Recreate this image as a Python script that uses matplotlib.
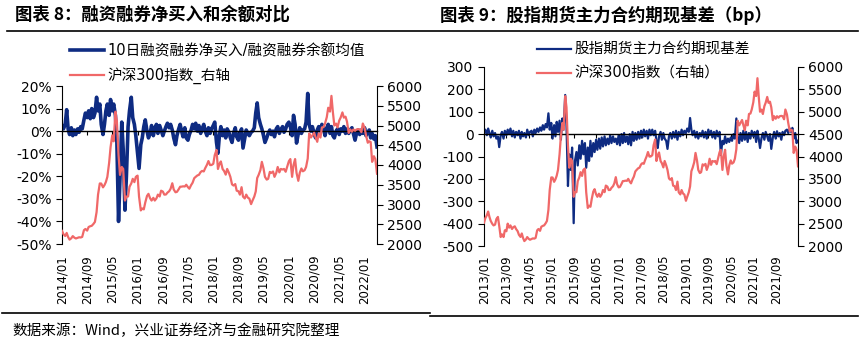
import matplotlib
matplotlib.use("Agg")
import matplotlib.pyplot as plt
import matplotlib.dates as mdates
from matplotlib.lines import Line2D
from matplotlib.ticker import FuncFormatter, MultipleLocator
import numpy as np
import pandas as pd

plt.rcParams['font.family'] = ['DejaVu Sans', 'Noto Sans CJK SC']
plt.rcParams['axes.unicode_minus'] = False

BLUE = '#0E2B82'
PINK = '#F06868'

# half-month grid (1st and 15th), 2013/01 - 2022/05
# CSI 300 close
hs300_2013 = [2520, 2620, 2690, 2770, 2650, 2560, 2495, 2460, 2478, 2600, 2650, 2450,
              2200, 2260, 2200, 2350, 2330, 2500, 2410, 2460, 2380, 2420, 2440, 2380]
hs300_2014 = [2331, 2250, 2203, 2280, 2178, 2110, 2146, 2200, 2160, 2140, 2157, 2170,
              2165, 2180, 2350, 2380, 2339, 2430, 2450, 2460, 2509, 2560, 2808, 3250]
hs300_2015 = [3533, 3530, 3434, 3490, 3572, 3700, 4051, 4450, 4749, 4600, 5350, 5100,
              4250, 3750, 3950, 3900, 3100, 3200, 3203, 3450, 3534, 3650, 3566, 3700]
hs300_2016 = [3731, 3200, 2850, 2900, 2877, 3050, 3218, 3270, 3156, 3100, 3169, 3100,
              3154, 3250, 3203, 3350, 3327, 3250, 3253, 3300, 3336, 3400, 3538, 3380]
hs300_2017 = [3310, 3320, 3387, 3450, 3452, 3460, 3456, 3500, 3439, 3400, 3492, 3550,
              3666, 3700, 3737, 3750, 3822, 3850, 3837, 3920, 4006, 4100, 3998, 4000]
hs300_2018 = [4030, 4250, 4380, 3900, 4023, 4090, 3898, 3850, 3756, 3900, 3802, 3700,
              3510, 3480, 3517, 3350, 3335, 3250, 3438, 3200, 3153, 3250, 3172, 3150]
hs300_2019 = [3010, 3100, 3201, 3330, 3670, 3750, 3872, 4080, 3913, 3700, 3630, 3650,
              3825, 3800, 3835, 3700, 3799, 3950, 3814, 3900, 3886, 3900, 3829, 3950]
hs300_2020 = [4097, 4150, 3700, 4000, 4150, 3800, 3600, 3800, 3912, 3840, 3868, 3950,
              4164, 4800, 4696, 4750, 4816, 4700, 4587, 4800, 4695, 4950, 4960, 5050]
hs300_2021 = [5211, 5450, 5352, 5750, 5336, 5000, 5048, 4950, 5124, 5200, 5331, 5200,
              5224, 5100, 4812, 4900, 4844, 4900, 4866, 4900, 4908, 4900, 4832, 5050]
hs300_2022 = [4940, 4750, 4564, 4600, 4581, 4080, 4222, 4150, 3780]

# IF main contract basis, bp
basis_2013 = [10, 20, -5, 25, 5, -15, 15, -10, 5, -20, -10, -58,
              -5, 10, -20, 15, -5, 20, 0, 25, -10, 15, -15, 10]
basis_2014 = [-5, 15, -20, 10, -10, 5, -15, 20, -5, 10, 15, -10,
              20, 5, 25, 10, 30, 15, 40, 20, 45, 30, 93, 20]
basis_2015 = [50, -20, 40, -10, 55, 10, 60, -25, 70, 20, 175, 40,
              -232, -90, -160, -60, -398, -120, -80, -140, -50, -110, -30, -90]
basis_2016 = [-40, -150, -60, -120, -30, -100, -40, -80, -25, -70, -20, -65,
              -15, -55, -10, -50, -20, -45, -5, -40, -10, -35, -20, -45]
basis_2017 = [-5, -50, 0, -40, 5, -35, -10, -45, 0, -50, 10, -30,
              5, -25, 10, -20, 15, -15, 20, -10, 15, -20, 20, -5]
basis_2018 = [20, -5, 15, -30, -62, -10, 10, -25, 5, -20, -30, -66,
              -10, 5, -20, 10, -15, 15, -25, 10, -10, 20, -5, 15]
basis_2019 = [5, 25, 10, 72, 20, -5, 15, -15, 10, -20, 5, -10,
              15, -15, 10, -20, 20, -5, 15, -15, 10, -20, 15, -10]
basis_2020 = [10, -93, -30, -45, -10, -40, -20, -35, -15, -30, 0, -20,
              70, -10, -40, 5, -30, 15, -25, 10, -35, 5, -20, 15]
basis_2021 = [-10, 10, -35, 15, -20, -62, -15, 5, -25, 10, -10, -30,
              0, -66, -15, 10, -20, 13, -10, 5, -25, 10, -5, 15]
basis_2022 = [20, 5, 25, 10, 28, -20, 5, -40, -30]

# 10-day margin net buy / margin balance, %, 2014/01 - 2022/05
margin_2014 = [2.5, 1.0, 3.0, 9.5, 1.0, -1.5, 1.5, -2.0, 0.5, -1.5, 1.0, -0.5,
               2.0, 1.0, 5.0, 8.0, 6.0, 9.0, 5.5, 10.0, 6.0, 8.0, 15.0, 9.0]
margin_2015 = [12.0, 3.0, -1.5, 3.0, 9.0, 12.0, 7.0, 14.0, 9.0, 12.0, 7.0, -5.0,
               -40.0, -21.0, 4.0, -8.0, -35.0, -20.0, 2.0, 9.0, 15.0, 6.0, 3.0, -2.0]
margin_2016 = [-10.0, -16.5, -6.0, -3.0, 2.0, 5.0, 0.0, -3.0, -1.0, 2.5, -2.0, 1.0,
               3.0, -1.0, 2.5, 0.5, -2.0, 0.0, 2.0, 3.5, 1.5, 3.0, 0.5, -3.0]
margin_2017 = [-6.0, -2.0, 1.0, 3.0, 0.0, -2.5, 1.5, -3.0, -4.0, -1.5, 0.5, 3.0,
               1.0, 3.5, 0.0, 2.5, -1.0, 1.0, 3.0, 0.0, -2.0, 1.5, -1.0, 1.0]
margin_2018 = [2.5, 4.0, -5.0, -9.8, -2.0, 2.0, -2.0, 0.5, -3.0, 1.0, -0.5, -3.0,
               -5.0, -1.0, 1.5, -2.5, -4.0, -1.0, 1.0, -7.5, -3.0, 0.5, -1.0, -2.0]
margin_2019 = [-0.5, 0.0, 1.5, 8.0, 12.5, 6.0, 3.0, 1.0, -2.0, -5.0, -3.0, -1.0,
               0.5, -1.5, 0.0, -2.5, 1.0, 2.0, -1.0, 0.5, 2.0, -0.5, 1.0, 3.0]
margin_2020 = [4.0, 2.0, -2.0, 7.0, 3.0, -5.3, -1.0, 1.5, -1.0, 0.5, 1.0, 4.0,
               16.7, 3.0, 0.0, 2.0, -1.0, -3.0, 0.5, 2.0, 0.0, 3.0, 1.0, -2.0]
margin_2021 = [1.5, 3.0, -1.0, 2.0, -2.0, -3.0, 0.0, 1.0, -1.5, 1.0, 0.0, 2.0,
               -1.0, 1.0, -1.0, 0.5, 1.5, -1.0, -4.0, -1.0, 0.5, -1.5, 0.5, -1.0]
margin_2022 = [1.5, -2.0, -0.5, 0.5, -3.0, -1.0, -3.5, -2.0, -7.0]

hs300 = hs300_2013 + hs300_2014 + hs300_2015 + hs300_2016 + hs300_2017 + \
    hs300_2018 + hs300_2019 + hs300_2020 + hs300_2021 + hs300_2022
basis = basis_2013 + basis_2014 + basis_2015 + basis_2016 + basis_2017 + \
    basis_2018 + basis_2019 + basis_2020 + basis_2021 + basis_2022
margin = margin_2014 + margin_2015 + margin_2016 + margin_2017 + margin_2018 + \
    margin_2019 + margin_2020 + margin_2021 + margin_2022

dates = pd.date_range('2013-01-01', periods=len(hs300), freq='SMS')
df = pd.DataFrame({'hs300': hs300, 'basis': basis}, index=dates)
df['margin'] = np.nan
df.loc['2014-01-01':, 'margin'] = margin

fig = plt.figure(figsize=(8.65, 3.47), dpi=100)


def style_axes(ax, ax2, zero_pad, ticks):
    for s in ['top', 'right']:
        ax.spines[s].set_visible(False)
    for s in ['top', 'bottom', 'left']:
        ax2.spines[s].set_visible(False)
    ax.spines['bottom'].set_position(('data', 0))
    ax.spines['bottom'].set_linewidth(1.0)
    ax.set_xticks(ticks)
    ax.xaxis.set_major_formatter(mdates.DateFormatter('%Y/%m'))
    ax.tick_params(axis='x', direction='out', length=3, pad=zero_pad,
                   labelrotation=90, labelsize=8.5, colors='black')
    ax.tick_params(axis='y', direction='out', length=4, labelsize=10)
    ax2.tick_params(axis='y', direction='out', length=4, labelsize=10)
    ax2.set_ylim(2000, 6000)
    ax2.yaxis.set_major_locator(MultipleLocator(500))


# left chart
ax1 = fig.add_axes([62 / 865, 1 - 244 / 347, 315 / 865, 158 / 347])
ax1b = ax1.twinx()
l1, = ax1.plot(df.index, df['margin'], color=BLUE, lw=2.6)
l2, = ax1b.plot(df.loc['2014-01-01':].index, df.loc['2014-01-01':, 'hs300'], color=PINK, lw=1.6)
ax1.set_xlim(pd.Timestamp('2014-01-01'), pd.Timestamp('2022-05-01'))
ax1.set_ylim(-50, 20)
ax1.yaxis.set_major_locator(MultipleLocator(10))
ax1.yaxis.set_major_formatter(FuncFormatter(lambda v, p: f'{v:.0f}%'))
style_axes(ax1, ax1b, 86, pd.date_range('2014-01-01', '2022-01-01', freq='8MS'))
fig.legend([l1, l2], ['10日融资融券净买入/融资融券余额均值', '沪深300指数_右轴'],
           loc='upper left', bbox_to_anchor=(70 / 865, 1 - 43 / 347), frameon=False,
           borderpad=0, borderaxespad=0, handlelength=2.3, handletextpad=0.3,
           labelspacing=0.65, fontsize=10.5)

# right chart
ax2 = fig.add_axes([484 / 865, 1 - 246 / 347, 314 / 865, 179 / 347])
ax2b = ax2.twinx()
l3, = ax2.plot(df.index, df['basis'], color=BLUE, lw=1.6)
l4, = ax2b.plot(df.index, df['hs300'], color=PINK, lw=1.6)
ax2.set_xlim(pd.Timestamp('2013-01-01'), pd.Timestamp('2022-05-01'))
ax2.set_ylim(-500, 300)
ax2.yaxis.set_major_locator(MultipleLocator(100))
style_axes(ax2, ax2b, 84, pd.date_range('2013-01-01', '2021-09-01', freq='8MS'))
fig.legend([l3, l4], ['股指期货主力合约期现基差', '沪深300指数（右轴）'],
           loc='upper left', bbox_to_anchor=(537 / 865, 1 - 42 / 347), frameon=False,
           borderpad=0, borderaxespad=0, handlelength=2.3, handletextpad=0.3,
           labelspacing=0.6, fontsize=10.5)

# titles, rules, source
tfont = dict(family=['Noto Sans CJK SC'], fontsize=12.5, fontweight='bold', va='center')
fig.text(15 / 865, 1 - 15 / 347, '图表 8：融资融券净买入和余额对比', **tfont)
fig.text(440 / 865, 1 - 15 / 347, '图表 9：股指期货主力合约期现基差（bp）', **tfont)
fig.add_artist(Line2D([7 / 865, 858 / 865], [1 - 31 / 347] * 2, color='black', lw=1.2))
fig.add_artist(Line2D([2 / 865, 430 / 865], [1 - 313 / 347] * 2, color='black', lw=1.2))
fig.add_artist(Line2D([430 / 865, 858 / 865], [1 - 315.5 / 347] * 2, color='black', lw=1.2))
fig.text(12 / 865, 1 - 331 / 347, '数据来源：Wind，兴业证券经济与金融研究院整理',
         family=['Noto Sans CJK SC'], fontsize=10.5, va='center')

fig.savefig('out.png', dpi=100)
